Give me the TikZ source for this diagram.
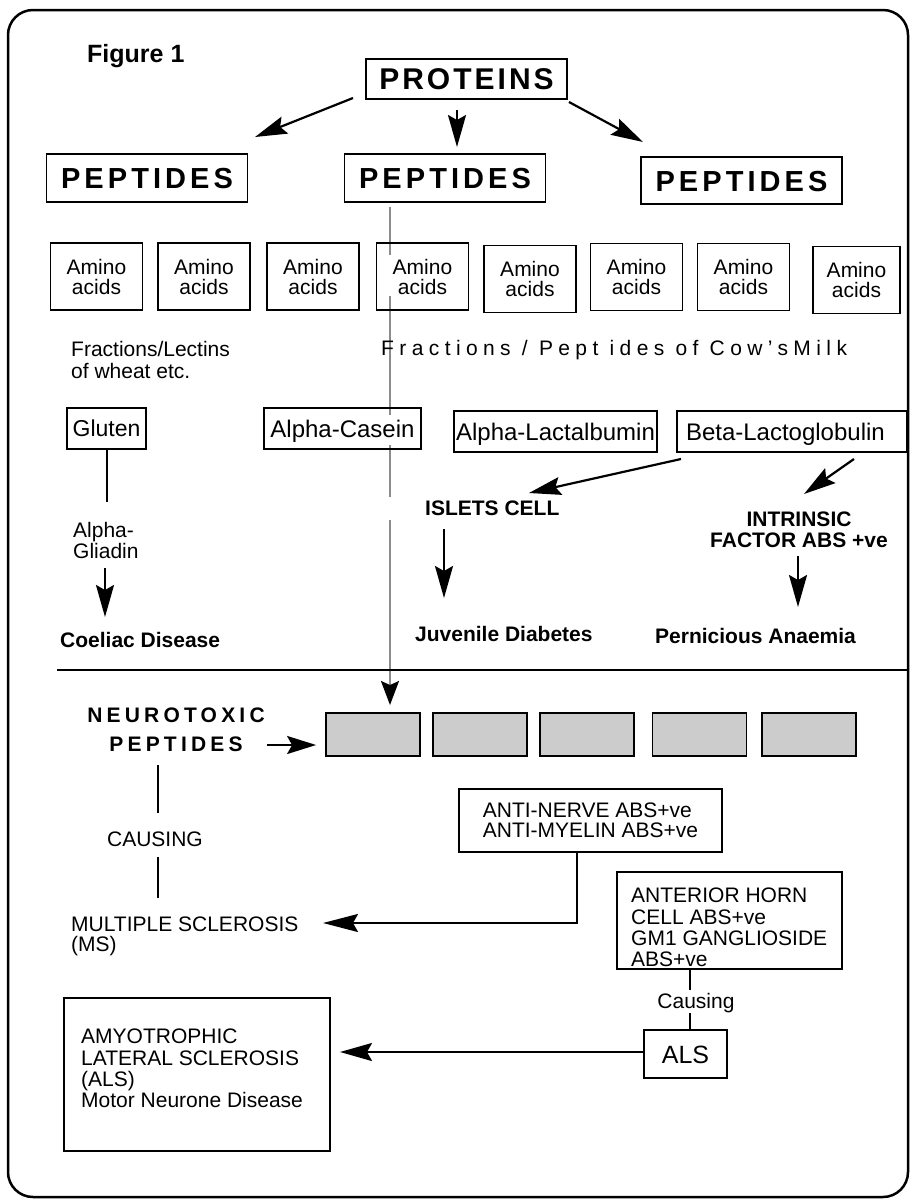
\documentclass[tikz,border=0pt]{standalone}
\usepackage{fontspec}
\setmainfont{Liberation Sans}
\usetikzlibrary{arrows.meta}
\newcommand\fsz[2]{\fontsize{#1}{#2}\selectfont}
\newcommand\lsp[1]{\addfontfeature{LetterSpace=#1}}
\tikzset{
  box/.style={draw, line width=1.8pt, inner sep=0pt, align=center},
  arr/.style={line width=2.2pt, -{Stealth[length=32pt,width=18pt,inset=5pt]}},
  ln/.style={line width=2pt},
  lbl/.style={inner sep=0pt, font=\fsz{21}{21}},
  blbl/.style={inner sep=0pt, font=\bfseries\fsz{21}{21}},
  amino/.style={box, minimum width=92pt, minimum height=67pt, font=\fsz{21}{20}},
  big/.style={box, font=\bfseries\fsz{29}{29}\lsp{14}, minimum width=201pt, minimum height=48pt, text height=21pt, text depth=0pt},
  onel/.style={box, minimum height=41pt, font=\fsz{24}{24}, text height=17pt, text depth=0pt},
  gbox/.style={draw, line width=1.8pt, fill=black!20, minimum width=94pt, minimum height=43pt, inner sep=0pt},
  grayline/.style={draw=black!45, line width=2pt}
}
\begin{document}
\begin{tikzpicture}[x=1pt,y=-1pt]
\useasboundingbox (0,0) rectangle (911,1200);
\draw[line width=2.5pt, rounded corners=25pt] (8,10) rectangle (908,1197);

% gray connector from middle PEPTIDES to first neurotoxic box
\coordinate (gt) at (390,207);
\coordinate (gc1) at (390,255);
\coordinate (gc2) at (390,296);
\coordinate (gc3) at (390,415);
\coordinate (gc4) at (390,445);
\coordinate (gc5) at (390,497);
\coordinate (gc6) at (390,520);
\coordinate (gtip) at (390,705);
\draw[grayline] (gt) -- (gc1) (gc2) -- (gc3) (gc4) -- (gc5);
\draw[grayline, -{Stealth[black,length=24pt,width=18pt,inset=4pt]}] (gc6) -- (gtip);

% title and top boxes
\node[anchor=base west, inner sep=0pt, font=\bfseries\fsz{25}{25}] (fig) at (87,62) {Figure 1};
\node[box, font=\bfseries\fsz{30}{30}\lsp{10}, minimum width=201pt, minimum height=40pt, text height=21.5pt, text depth=0pt] (prot) at (466.5,79) {PROTEINS};
\node[big] (pepL) at (147,178) {PEPTIDES};
\node[big] (pepM) at (445,178) {PEPTIDES};
\node[big, minimum height=47pt] (pepR) at (741.5,180.5) {PEPTIDES};

\coordinate (p1s) at (353,98);  \coordinate (p1t) at (255,137);
\coordinate (p2s) at (457,110); \coordinate (p2t) at (457,147);
\coordinate (p3s) at (569,102); \coordinate (p3t) at (643,142);
\draw[arr] (p1s) -- (p1t);
\draw[arr] (p2s) -- (p2t);
\draw[arr] (p3s) -- (p3t);

% amino acids
\node[amino] (am1) at (96.5,276.5) {Amino\\acids};
\node[amino] (am2) at (204,276.5) {Amino\\acids};
\node[amino] (am3) at (313,276.5) {Amino\\acids};
\node[amino] (am4) at (422.5,276.5) {Amino\\acids};
\node[amino] (am5) at (530,279) {Amino\\acids};
\node[amino] (am6) at (636.5,277) {Amino\\acids};
\node[amino] (am7) at (743.5,277) {Amino\\acids};
\node[amino, minimum width=87pt] (am8) at (856.5,280) {Amino\\acids};

\node[lbl, anchor=north west, align=left, font=\fsz{21}{22}] (frw) at (71,341) {Fractions/Lectins\\of wheat etc.};
\node[lbl, anchor=base west, font=\fsz{21}{21}\lsp{25.7}] (frm) at (381,355) {Fractions / Pept ides of Cow'sMilk};

\node[onel, font=\fsz{23}{23}, minimum width=79pt, text height=16.5pt] (glu) at (106.5,428.5) {Gluten};
\node[onel, minimum width=157pt] (cas) at (342.5,428.5) {Alpha-Casein};
\node[onel, minimum width=203pt] (lac) at (555.5,431.5) {Alpha-Lactalbumin};
\node[onel, text width=212pt, inner xsep=9pt, align=left] (bet) at (792,431.5) {Beta-Lactoglobulin};

% gluten branch
\coordinate (gl) at (107,502);
\draw[ln] (glu.south -| gl) -- (gl);
\node[lbl, anchor=north west, align=left] (gli) at (73,522) {Alpha-\\Gliadin};
\coordinate (ga1) at (105,568); \coordinate (ga2) at (105,617);
\draw[arr] (ga1) -- (ga2);
\node[blbl, anchor=base west] (coe) at (60,647) {Coeliac Disease};

% beta branches
\node[blbl, anchor=base west] (isl) at (425,515) {ISLETS CELL};
\coordinate (b1) at (681,459); \coordinate (b2) at (529,493);
\draw[arr] (b1) -- (b2);
\coordinate (i1) at (444,529); \coordinate (i2) at (444,598);
\draw[arr] (i1) -- (i2);
\node[blbl, anchor=base west] (juv) at (415,641) {Juvenile Diabetes};

\coordinate (b3) at (854,459); \coordinate (b4) at (804,494);
\draw[arr] (b3) -- (b4);
\node[blbl, anchor=north, align=center] (intr) at (799,512) {INTRINSIC\\FACTOR ABS +ve};
\coordinate (f1) at (798,556); \coordinate (f2) at (798,607);
\draw[arr] (f1) -- (f2);
\node[blbl, anchor=base west] (per) at (655,643) {Pernicious Anaemia};

% divider
\coordinate (h1) at (57,670); \coordinate (h2) at (908,670);
\draw[line width=2.5pt] (h1) -- (h2);

% neurotoxic
\node[gbox] (g1) at (373,734.5) {};
\node[gbox] (g2) at (480,734.5) {};
\node[gbox] (g3) at (587,734.5) {};
\node[gbox] (g4) at (699.5,734.5) {};
\node[gbox] (g5) at (809,734.5) {};
\node[inner sep=0pt, anchor=north, align=center, font=\bfseries\fsz{21}{29}\lsp{20}] (neuro) at (176,708) {NEUROTOXIC\\PEPTIDES};
\coordinate (na) at (267,745);
\draw[arr, -{Stealth[length=29pt,width=18pt,inset=5pt]}, shorten >=9pt] (na) -- (na -| g1.west);

\node[lbl, anchor=base] (causing) at (155,846) {CAUSING};
\coordinate (c1) at (158,765); \coordinate (c2) at (158,813);
\coordinate (c3) at (158,857); \coordinate (c4) at (158,898);
\draw[ln] (c1) -- (c2);
\draw[ln] (c3) -- (c4);
\node[lbl, anchor=north west, align=left, font=\fsz{21}{20}] (ms) at (71,917) {MULTIPLE SCLEROSIS\\(MS)};

\node[box, minimum width=263pt, minimum height=63pt, align=left, font=\fsz{21}{20}] (anti) at (590.5,820.5) {ANTI-NERVE ABS+ve\\ANTI-MYELIN ABS+ve};
\coordinate (k) at (577,923); \coordinate (mstip) at (323,923);
\draw[arr, -{Stealth[length=35pt,width=18pt,inset=5pt]}] (anti.south -| k) -- (k) -- (mstip);

\node[box, minimum width=225pt, minimum height=97pt] (ant) at (729.5,920.5) {};
\node[lbl, anchor=north west, align=left, font=\fsz{21}{21.3}] (antT) at (631,888) {ANTERIOR HORN\\CELL ABS+ve\\GM1 GANGLIOSIDE\\ABS+ve};

\node[box, minimum width=83pt, minimum height=48pt, font=\fsz{25}{25}, text height=18pt, text depth=0pt] (als) at (685.5,1054) {ALS};
\node[lbl, anchor=base] (caus2) at (696,1008) {Causing};
\coordinate (cx) at (690,990); \coordinate (cy) at (690,1013);
\draw[ln] (ant.south -| cx) -- (cx);
\draw[ln] (cy) -- (cy |- als.north);

\node[box, minimum width=266pt, minimum height=153pt] (amy) at (197,1074.5) {};
\node[lbl, anchor=north west, align=left, font=\fsz{21}{21.3}] (amyT) at (81,1029) {AMYOTROPHIC\\LATERAL SCLEROSIS\\(ALS)\\Motor Neurone Disease};
\coordinate (alstip) at (340,1052);
\draw[arr] (als.west |- alstip) -- (alstip);
\end{tikzpicture}
\end{document}
